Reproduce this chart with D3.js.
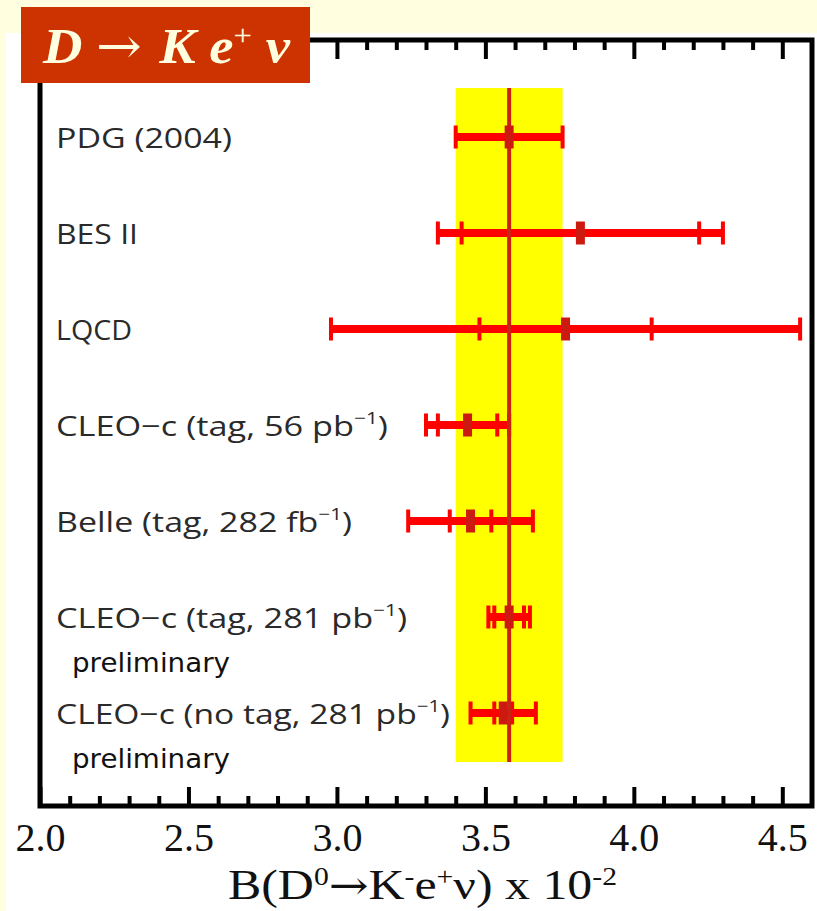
<!DOCTYPE html>
<html>
<head>
<meta charset="utf-8">
<script src="https://cdn.jsdelivr.net/npm/d3@7/dist/d3.min.js"></script>
<style>
  html, body { margin: 0; padding: 0; background: #FFFFE0; }
  svg { display: block; }
</style>
</head>
<body>
<script>
// ---- data ----
const categories = ["PDG", "BESII", "LQCD", "CLEO56", "Belle", "CLEO281", "CLEO281nt"];
const labelMain = ["PDG (2004)", "BES II", "LQCD", "CLEO\u2212c (tag, 56 pb", "Belle (tag, 282 fb", "CLEO\u2212c (tag, 281 pb", "CLEO\u2212c (no tag, 281 pb"];
const labelSup  = ["", "", "", "\u22121", "\u22121", "\u22121", "\u22121"];
const labelTail = ["", "", "", ")", ")", ")", ")"];
const notes     = ["", "", "", "", "", "preliminary", "preliminary"];
const values    = [3.58, 3.82, 3.77, 3.44, 3.45, 3.58, 3.56];
const statErr   = [null, 0.40, 0.29, 0.10, 0.07, 0.05, 0.03];
const totalErr  = [0.18, 0.48, 0.79, 0.14, 0.21, 0.07, 0.11];
const avgValue = 3.58;
const avgErr = 0.18;
const xMajorTicks = [2.0, 2.5, 3.0, 3.5, 4.0, 4.5];
const xMinorTicks = [2.1,2.2,2.3,2.4,2.6,2.7,2.8,2.9,3.1,3.2,3.3,3.4,3.6,3.7,3.8,3.9,4.1,4.2,4.3,4.4];
const xDomain = [2.0, 4.6];

// ---- layout ----
const W = 817, H = 911;
const labelWidths = [176, 82, 76, 332, 296, 351, 394];
const svg = d3.select("body").append("svg").attr("width", W).attr("height", H);

svg.append("rect").attr("x", 0).attr("y", 0).attr("width", W).attr("height", H).attr("fill", "#FFFFE0");
svg.append("rect").attr("x", 6).attr("y", 33).attr("width", W - 6).attr("height", H - 33).attr("fill", "#FFFFFF");

const pL = 40, pR = 812, pT = 40, pB = 806;
const x = d3.scaleLinear().domain(xDomain).range([pL, pR]);
const y = d3.scalePoint().domain(categories).range([137, 713]);

// yellow band
const bandTop = 88, bandBottom = 762;
svg.append("rect")
  .attr("x", x(avgValue - avgErr)).attr("width", x(avgValue + avgErr) - x(avgValue - avgErr))
  .attr("y", bandTop).attr("height", bandBottom - bandTop)
  .attr("fill", "#FFFF00");

// error bars
const rows = categories.map((c, i) => ({c, i, v: values[i], s: statErr[i], t: totalErr[i]}));
const barH = 8, capH = 23, capW = 4;
const g = svg.append("g");
rows.forEach(r => {
  const cy = y(r.c);
  g.append("rect").attr("x", x(r.v - r.t)).attr("width", x(r.v + r.t) - x(r.v - r.t))
    .attr("y", cy - barH / 2).attr("height", barH).attr("fill", "#FF0000");
  const caps = [r.v - r.t, r.v + r.t];
  if (r.s !== null) caps.push(r.v - r.s, r.v + r.s);
  caps.forEach(cv => {
    g.append("rect").attr("x", x(cv) - capW / 2).attr("width", capW)
      .attr("y", cy - capH / 2).attr("height", capH).attr("fill", "#FF0000");
  });
});

// central line
svg.append("line")
  .attr("x1", x(avgValue)).attr("x2", x(avgValue))
  .attr("y1", bandTop).attr("y2", bandBottom)
  .attr("stroke", "#CC2211").attr("stroke-width", 4);

rows.forEach(r => {
  const cy = y(r.c);
  svg.append("rect").attr("x", x(r.v) - 4.5).attr("width", 9)
    .attr("y", cy - capH / 2).attr("height", capH).attr("fill", "#CC1A10");
});

// labels
const lab = svg.append("g").attr("font-family", "'Open Sans', 'DejaVu Sans', sans-serif")
  .attr("fill", "#2a2a2a");
rows.forEach(r => {
  const t = lab.append("text").attr("x", 56).attr("y", y(r.c) + 11).attr("font-size", 28)
    .attr("textLength", labelWidths[r.i]).attr("lengthAdjust", "spacingAndGlyphs");
  t.append("tspan").text(labelMain[r.i]);
  if (labelSup[r.i]) {
    t.append("tspan").attr("font-size", 17).attr("dy", -12).text(labelSup[r.i]);
    t.append("tspan").attr("font-size", 28).attr("dy", 12).text(labelTail[r.i]);
  }
  if (notes[r.i]) {
    svg.append("text").attr("x", 72).attr("y", y(r.c) + 55)
      .attr("font-family", "'DejaVu Sans', sans-serif").attr("font-size", 27)
      .attr("textLength", 158).attr("lengthAdjust", "spacingAndGlyphs")
      .attr("fill", "#111").text(notes[r.i]);
  }
});

// frame
svg.append("rect").attr("x", pL).attr("y", pT).attr("width", pR - pL).attr("height", pB - pT)
  .attr("fill", "none").attr("stroke", "#000").attr("stroke-width", 5);

function styleAxis(sel) {
  sel.select(".domain").remove();
  sel.selectAll(".tick line").attr("stroke", "#000").attr("stroke-width", 4);
}
// bottom axis: minor + major ticks pointing up
svg.append("g").attr("transform", `translate(0,${pB})`)
  .call(d3.axisBottom(x).tickValues(xMinorTicks).tickSize(-10).tickFormat(""))
  .call(styleAxis);
const bAx = svg.append("g").attr("transform", `translate(0,${pB})`)
  .call(d3.axisBottom(x).tickValues(xMajorTicks).tickSize(-19).tickFormat(d3.format(".1f")))
  .call(styleAxis);
bAx.selectAll(".tick text")
  .attr("y", 45).attr("dy", 0)
  .attr("font-family", "'Liberation Serif', 'Times New Roman', serif")
  .attr("font-size", 40).attr("fill", "#111");
// top axis ticks pointing down
svg.append("g").attr("transform", `translate(0,${pT})`)
  .call(d3.axisTop(x).tickValues(xMinorTicks).tickSize(-10).tickFormat(""))
  .call(styleAxis);
svg.append("g").attr("transform", `translate(0,${pT})`)
  .call(d3.axisTop(x).tickValues(xMajorTicks).tickSize(-19).tickFormat(""))
  .call(styleAxis);

// axis title
const at = svg.append("text").attr("x", 228).attr("y", 899)
  .attr("font-family", "'Liberation Serif', 'Times New Roman', serif").attr("font-size", 42).attr("fill", "#111")
  .attr("textLength", 389).attr("lengthAdjust", "spacingAndGlyphs");
at.append("tspan").text("B(D");
at.append("tspan").attr("font-size", 25).attr("dy", -14).text("0");
at.append("tspan").attr("dy", 14).attr("font-family", "'DejaVu Serif', serif").attr("font-size", 40).text("\u2192");
at.append("tspan").text("K");
at.append("tspan").attr("font-size", 25).attr("dy", -14).text("-");
at.append("tspan").attr("dy", 14).text("e");
at.append("tspan").attr("font-size", 25).attr("dy", -14).text("+");
at.append("tspan").attr("dy", 14).text("\u03BD) x 10");
at.append("tspan").attr("font-size", 25).attr("dy", -14).text("-2");

// title box
svg.append("rect").attr("x", 21).attr("y", 7).attr("width", 289).attr("height", 76).attr("fill", "#CC3300");
const tt = svg.append("text").attr("x", 43).attr("y", 63)
  .attr("font-family", "'Liberation Serif', 'Times New Roman', serif").attr("font-size", 50)
  .attr("fill", "#FFFFE0").attr("textLength", 247).attr("lengthAdjust", "spacingAndGlyphs");
tt.append("tspan").attr("font-weight", "bold").attr("font-style", "italic").text("D ");
tt.append("tspan").attr("font-weight", "normal").attr("font-family", "'DejaVu Serif', serif").text("\u2192 ");
tt.append("tspan").attr("font-weight", "bold").attr("font-style", "italic").text("K e");
tt.append("tspan").attr("font-weight", "normal").attr("font-size", 30).attr("dy", -18).text("+");
tt.append("tspan").attr("font-weight", "bold").attr("font-style", "italic").attr("dy", 18).text(" \u03BD");
</script>
</body>
</html>
